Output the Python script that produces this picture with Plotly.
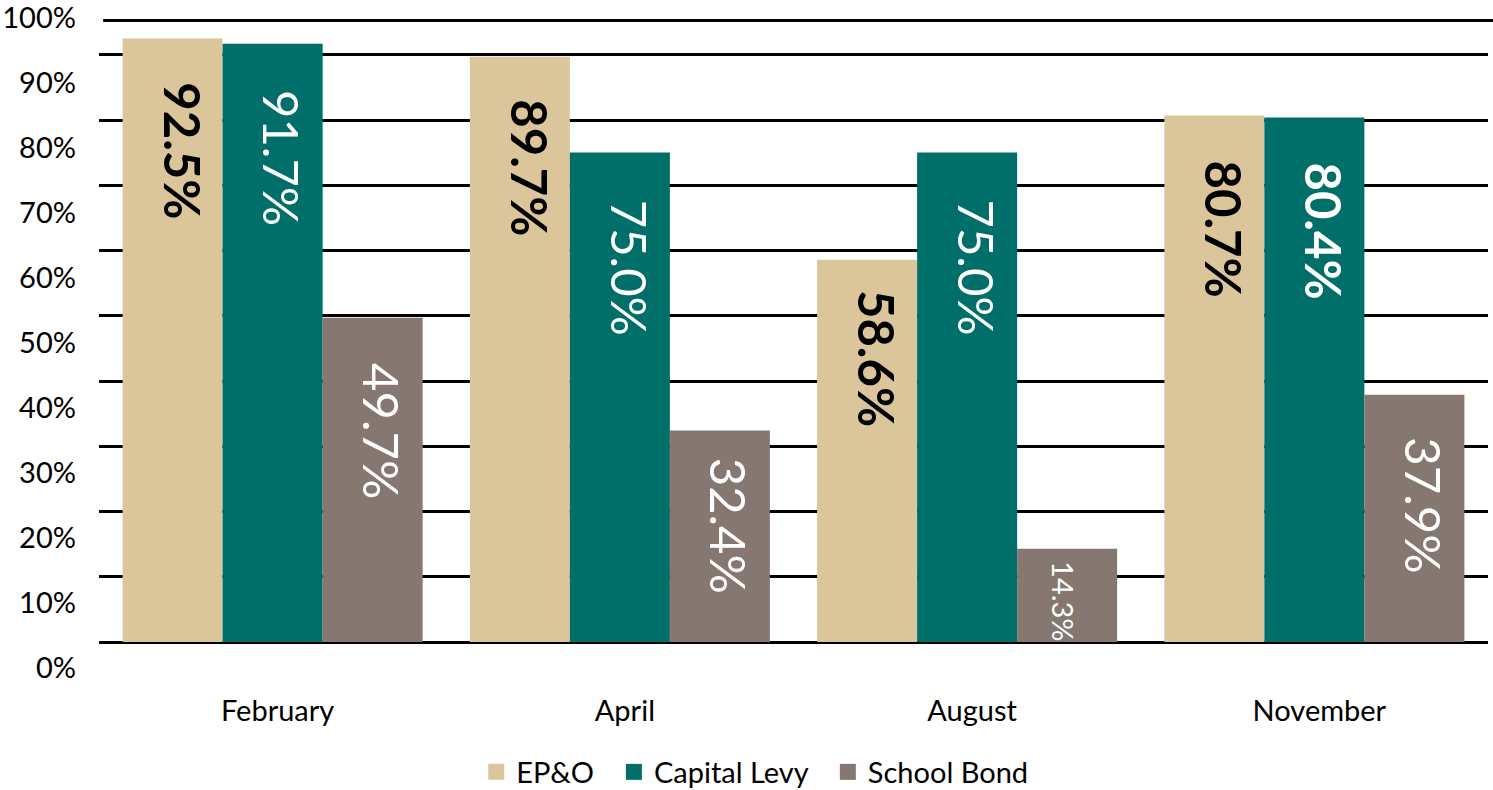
import plotly.graph_objects as go

# Data
months = ["February", "April", "August", "November"]
series_names = ["EP&O", "Capital Levy", "School Bond"]
ep_o = [92.5, 89.7, 58.6, 80.7]
capital_levy = [91.7, 75.0, 75.0, 80.4]
school_bond = [49.7, 32.4, 14.3, 37.9]
y_tick_values = [0, 10, 20, 30, 40, 50, 60, 70, 80, 90, 100]
y_tick_labels = ["0%", "10%", "20%", "30%", "40%", "50%", "60%", "70%", "80%", "90%", "100%"]

# Styling
colors = ["#DBC69B", "#006F69", "#867870"]
label_colors = ["black", "white", "white"]
label_bold = [[True, True, True, True], [False, False, False, True], [False, False, False, False]]
label_sizes = [[49, 49, 49, 49], [49, 49, 49, 49], [49, 49, 29, 49]]
# distance (px) from the bar top to the start of each rotated label
label_gaps = [[46, 45, 32, 47], [48, 49, 49, 47], [47, 29, 14, 45]]
label_xshift = [[10, 10, 10, 10], [10, 10, 10, 10], [10, 10, -3, 10]]
font = "Lato, 'Open Sans', sans-serif"
bargap = 0.136

fig = go.Figure()
all_values = [ep_o, capital_levy, school_bond]

for name, vals, color in zip(series_names, all_values, colors):
    fig.add_trace(
        go.Bar(
            x=months,
            y=vals,
            name=name,
            marker=dict(color=color, line=dict(width=0)),
            showlegend=False,
        )
    )

# Legend entries with larger square swatches (also carry the label axis)
for name, color in zip(series_names, colors):
    fig.add_trace(
        go.Scatter(
            x=[None],
            y=[None],
            yaxis="y2",
            mode="markers",
            name=name + "\u00a0\u00a0",
            marker=dict(symbol="square", size=17, color=color),
        )
    )

# Rotated value labels inside the bars
bar_w = (1 - bargap) / 3
for k, vals in enumerate(all_values):
    for i, v in enumerate(vals):
        txt = f"{v:.1f}%"
        if label_bold[k][i]:
            txt = f"<b>{txt}</b>"
        fig.add_annotation(
            x=i + (k - 1) * bar_w,
            y=v,
            xref="x",
            yref="y",
            text=txt,
            textangle=90,
            showarrow=False,
            xanchor="center",
            yanchor="top",
            xshift=label_xshift[k][i],
            yshift=-(label_gaps[k][i] - 4),
            font=dict(family=font, size=label_sizes[k][i], color=label_colors[k]),
        )

# Top frame line
fig.add_shape(
    type="line",
    xref="paper",
    yref="paper",
    x0=0.003,
    x1=1.0036,
    y0=0.9931,
    y1=0.9931,
    line=dict(color="black", width=3),
)

fig.update_layout(
    width=1493,
    height=790,
    margin=dict(l=99, r=5, t=16, b=120, autoexpand=False),
    plot_bgcolor="white",
    paper_bgcolor="white",
    barmode="group",
    bargap=bargap,
    bargroupgap=0,
    font=dict(family=font, size=29, color="black"),
    xaxis=dict(
        showline=False,
        showgrid=False,
        ticks="",
        ticklabelshift=5,
        ticklabelstandoff=21,
        tickfont=dict(size=29),
    ),
    yaxis=dict(
        range=[-4.2912, 95.9387],
        tickvals=y_tick_values[:-1],
        showticklabels=False,
        showgrid=True,
        gridcolor="black",
        gridwidth=3,
        zeroline=False,
    ),
    yaxis2=dict(
        overlaying="y",
        side="left",
        range=[-0.3849, 100.3079],
        tickvals=y_tick_values,
        ticktext=y_tick_labels,
        showgrid=False,
        zeroline=False,
        ticks="",
        ticklabelstandoff=22,
        ticklabeloverflow="allow",
        tickfont=dict(size=29),
    ),
    legend=dict(
        orientation="h",
        x=0.4775,
        xanchor="center",
        y=-0.156,
        yanchor="middle",
        font=dict(size=29),
    ),
)

fig.write_html(
    "out.html",
    config={"displayModeBar": False},
    post_script="document.body.style.margin = '0';",
)
